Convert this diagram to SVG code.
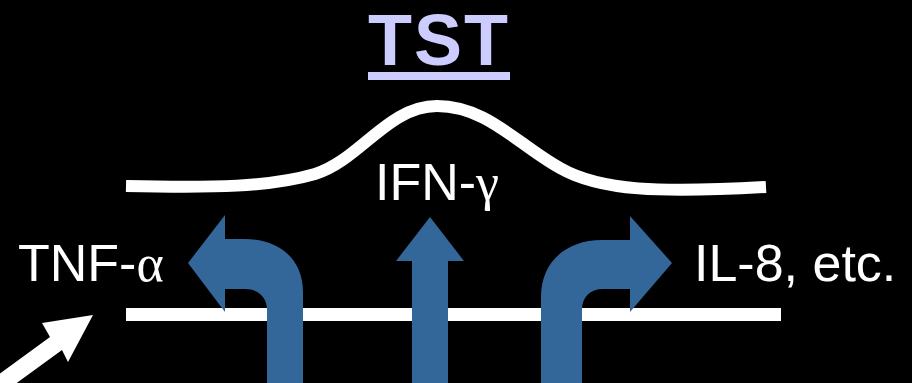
<svg xmlns="http://www.w3.org/2000/svg" width="912" height="383" viewBox="0 0 912 383">
<style>
.lbl{font-family:"Liberation Sans",Arial,sans-serif;font-size:52px;fill:#fff}
.gk{font-family:"Liberation Serif","Times New Roman",serif}
.blue{fill:#336699}
</style>
<rect width="912" height="383" fill="#000"/>
<g id="title">
<text x="439" y="65" text-anchor="middle" letter-spacing="2" style="font-family:'Liberation Sans',Arial,sans-serif;font-size:72px;font-weight:bold;fill:#ccccff">TST</text>
<rect x="368" y="72" width="142" height="8" fill="#ccccff"/>
</g>
<g id="curve">
<path d="M126,186 C215,188 270,187 315,174 C360,160 388,106 437,106 C487,106 518,145 560,168 C600,191 660,193 766,187" fill="none" stroke="#fff" stroke-width="12"/>
</g>
<g id="baseline">
<rect x="126" y="308" width="655" height="13" fill="#fff"/>
</g>
<g id="connectors">
<path id="arrow-left" class="blue" d="M188,263 L225,215 L225,239 L245,239 C278,239 303,258 303,292 L303,384 L267,384 L267,310 C267,297 258,289 245,289 L225,289 L225,312 Z"/>
<path id="arrow-up" class="blue" d="M430,217 L464,261 L448,261 L448,384 L412,384 L412,261 L396,261 Z"/>
<path id="arrow-right" class="blue" d="M672,263 L630,216 L630,240 L602,240 C566,240 541,262 541,297 L541,384 L582,384 L582,310 C582,297 590,289 603,289 L630,289 L630,312 Z"/>
<polygon id="arrow-white" fill="#fff" points="93,315 42,323 50,337 -31,396 -19,409 62,350 68,362"/>
</g>
<g id="tnf"><text class="lbl" x="18" y="281">TNF-<tspan class="gk">α</tspan></text></g>
<g id="ifn"><text class="lbl" x="375" y="200">IFN-<tspan class="gk">γ</tspan></text></g>
<g id="il8"><text class="lbl" x="694" y="281">IL-8, etc.</text></g>
</svg>
